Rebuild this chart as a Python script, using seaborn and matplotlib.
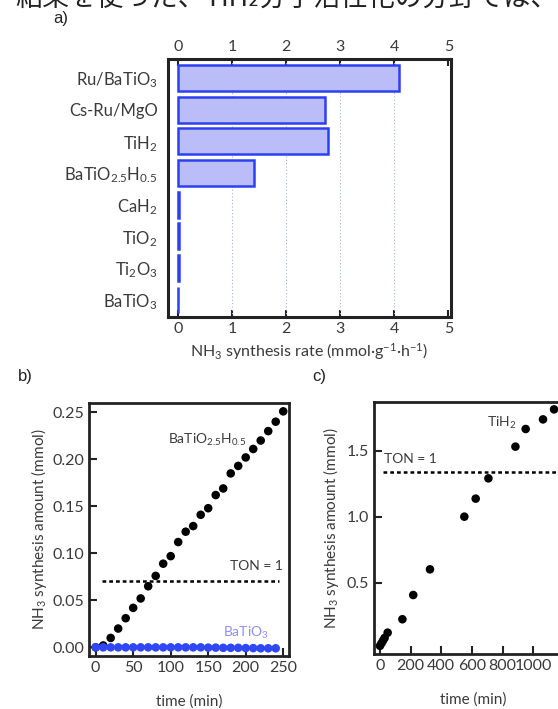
import matplotlib
matplotlib.use("Agg")
import matplotlib.pyplot as plt
import seaborn as sns
import pandas as pd
import numpy as np

sns.set_style("white")
plt.rcParams['font.family'] = ['Lato', 'DejaVu Sans']
plt.rcParams['mathtext.default'] = 'regular'

# ---------------- data ----------------
catalysts = ["Ru/BaTiO$_3$", "Cs-Ru/MgO", "TiH$_2$", "BaTiO$_{2.5}$H$_{0.5}$",
             "CaH$_2$", "TiO$_2$", "Ti$_2$O$_3$", "BaTiO$_3$"]
rates = [4.08, 2.72, 2.78, 1.41, 0.02, 0.02, 0.02, 0.01]

time_b = [0, 10, 20, 30, 40, 50, 60, 70, 80, 90, 100, 110, 120, 130, 140,
          150, 160, 170, 180, 190, 200, 210, 220, 230, 240, 250]
hydride_b = [0.000, 0.002, 0.010, 0.020, 0.031, 0.042, 0.052, 0.065, 0.076,
             0.089, 0.097, 0.112, 0.123, 0.129, 0.141, 0.148, 0.162, 0.169,
             0.185, 0.193, 0.202, 0.211, 0.220, 0.230, 0.240, 0.251]
time_b_oxide = [0, 10, 20, 30, 40, 50, 60, 70, 80, 90, 100, 110, 120, 130,
                140, 150, 160, 170, 180, 190, 200, 210, 220, 230, 240]
oxide_b = [0.000, 0.000, 0.000, 0.000, 0.000, 0.000, 0.000, 0.000, 0.000,
           0.000, 0.000, 0.000, 0.000, 0.000, 0.000, -0.0003, -0.0003, -0.0005,
           -0.0005, -0.0005, -0.0008, -0.0008, -0.001, -0.001, -0.001]
ton_b = 0.071

time_c = [0, 10, 20, 30, 50, 146, 217, 326, 550, 624, 707, 883, 950, 1063, 1135]
tih2_c = [0.02, 0.04, 0.06, 0.08, 0.12, 0.222, 0.406, 0.601, 1.001, 1.138,
          1.292, 1.533, 1.667, 1.74, 1.816]
ton_c = 1.341

bar_fill = "#bbbdf8"
bar_edge = "#2c40f2"
blue_dot = "#2f47f5"
txt = "#3a3a3a"

W, H = 558, 709
fig = plt.figure(figsize=(W / 100, H / 100), dpi=100)

def ax_at(l, t, r, b):
    return fig.add_axes([l / W, 1 - b / H, (r - l) / W, (b - t) / H])

# ---------------- panel a ----------------
axa = ax_at(168, 59, 451, 317)
dfa = pd.DataFrame({"cat": catalysts, "rate": rates})
sns.barplot(data=dfa, x="rate", y="cat", orient="h", color=bar_fill,
            edgecolor=bar_edge, linewidth=1.8, width=0.82, saturation=1,
            ax=axa, zorder=3)
for p in axa.patches:
    p.set_facecolor(bar_fill)
    p.set_edgecolor(bar_edge)
axa.set_xlim(-0.18, 5.05)
axa.set_ylim(7.54, -0.6)
axa.set_xticks([0, 1, 2, 3, 4, 5])
for xv in [1, 2, 3, 4]:
    axa.axvline(xv, color="#a9aef0", lw=0.8, ls=(0, (1, 2)), zorder=1)
axa.tick_params(axis="x", which="both", direction="in", top=True, bottom=True,
                labeltop=True, labelbottom=True, length=5, width=1.5,
                labelsize=11.5, labelcolor=txt, color="#222222")
axa.tick_params(axis="y", left=False, labelsize=12, labelcolor=txt, pad=4)
axa.set_ylabel("")
axa.set_xlabel("NH$_3$ synthesis rate (mmol·g$^{-1}$·h$^{-1}$)", fontsize=11.5,
               color=txt, labelpad=4)
for s in axa.spines.values():
    s.set_linewidth(2.2)
    s.set_color("#222222")

# ---------------- panel b ----------------
axb = ax_at(89, 403, 289, 656)
sns.scatterplot(x=time_b, y=hydride_b, color="black", s=38, edgecolor="none",
                ax=axb, zorder=3)
sns.scatterplot(x=time_b_oxide, y=oxide_b, color=blue_dot, s=38,
                edgecolor="none", ax=axb, zorder=3)
axb.hlines(ton_b, 8, 245, colors="black", lw=1.8, ls=(0, (1.5, 1.2)))
axb.text(250, 0.086, "TON = 1", ha="right", va="center", fontsize=10, color=txt)
axb.text(148, 0.221, "BaTiO$_{2.5}$H$_{0.5}$", ha="center", va="center",
         fontsize=10, color=txt)
axb.text(200, 0.0156, "BaTiO$_3$", ha="center", va="center", fontsize=10,
         color="#8e8ef8")
axb.set_xlim(-8.9, 257.7)
axb.set_ylim(-0.0092, 0.2599)
axb.set_xticks([0, 50, 100, 150, 200, 250])
axb.set_yticks([0, 0.05, 0.10, 0.15, 0.20, 0.25])
axb.yaxis.set_major_formatter(matplotlib.ticker.FormatStrFormatter("%.2f"))
axb.tick_params(direction="in", length=6, width=1.5, labelsize=11.5,
                labelcolor=txt, left=True, bottom=True, color="#222222")
axb.set_xlabel("time (min)", fontsize=11, color=txt, labelpad=14)
axb.set_ylabel("NH$_3$ synthesis amount (mmol)", fontsize=11, color=txt,
               labelpad=2)
for s in axb.spines.values():
    s.set_linewidth(2)
    s.set_color("#222222")

# ---------------- panel c ----------------
axc = ax_at(374, 402, 572, 654)
sns.scatterplot(x=time_c, y=tih2_c, color="black", s=38, edgecolor="none",
                ax=axc, zorder=3)
axc.hlines(ton_c, 20, 1260, colors="black", lw=1.8, ls=(0, (1.5, 1.2)))
axc.text(26, 1.437, "TON = 1", ha="left", va="center", fontsize=10, color=txt)
axc.text(890, 1.71, "TiH$_2$", ha="right", va="center", fontsize=10, color=txt)
axc.set_xlim(-39, 1252)
axc.set_ylim(-0.042, 1.872)
axc.set_xticks([0, 200, 400, 600, 800, 1000])
axc.set_yticks([0.5, 1.0, 1.5])
axc.tick_params(direction="in", length=6, width=1.5, labelsize=11.5,
                labelcolor=txt, left=True, bottom=True, color="#222222")
axc.set_xlabel("time (min)", fontsize=11, color=txt, labelpad=14)
axc.set_ylabel("NH$_3$ synthesis amount (mmol)", fontsize=11, color=txt,
               labelpad=4)
for s in axc.spines.values():
    s.set_linewidth(2)
    s.set_color("#222222")

# ---------------- panel letters & clipped caption ----------------
fig.text(53 / W, 1 - 18 / H, "a)", fontsize=12, color="#222222",
         ha="left", va="center", family=["Liberation Sans", "DejaVu Sans"])
fig.text(18 / W, 1 - 377 / H, "b)", fontsize=12, color="#222222",
         ha="left", va="center", family=["Liberation Sans", "DejaVu Sans"])
fig.text(312 / W, 1 - 377 / H, "c)", fontsize=12, color="#222222",
         ha="left", va="center", family=["Liberation Sans", "DejaVu Sans"])
fig.text(15 / W, 1 - 12 / H, "結果を使った、TiH₂分子活性化の分野では、",
         fontsize=19.5, color="#222222", ha="left", va="bottom",
         family=["Noto Sans CJK JP", "DejaVu Sans"])

fig.savefig("out.png", dpi=100)
